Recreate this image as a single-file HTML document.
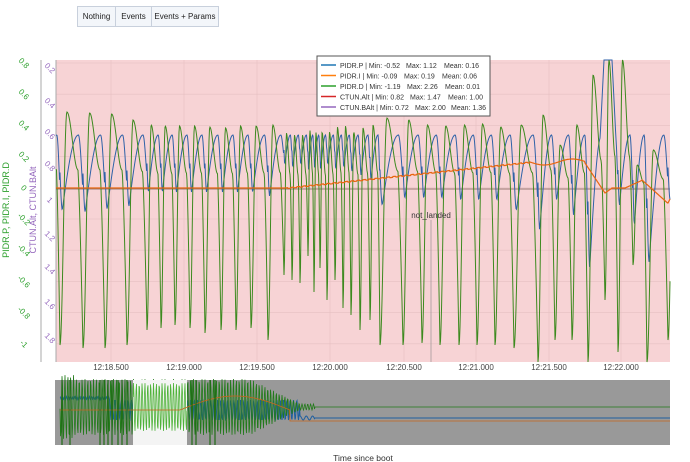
<!DOCTYPE html><html><head><style>
body{margin:0;width:690px;height:462px;background:#fff;font-family:"Liberation Sans",sans-serif;overflow:hidden;position:relative}
.b{position:absolute;top:6px;height:19px;border:1px solid #c8d0dc;background:#f3f6fa;font-size:8px;line-height:19px;text-align:center;color:#222}
</style></head><body>
<div class="b" style="left:77px;width:37px">Nothing</div>
<div class="b" style="left:115px;width:35px">Events</div>
<div class="b" style="left:151px;width:66px">Events + Params</div>
<svg id="s" width="690" height="462" style="position:absolute;left:0;top:0" font-family="Liberation Sans" font-size="8"></svg>
<script>
const s=document.getElementById('s');let h='';
h+='<rect x="56" y="60" width="614" height="302" fill="#f7d3d5"/>';
for(let i=0;i<10;i++){let y=63+i*31.2;h+=`<line x1="56" x2="670" y1="${y}" y2="${y}" stroke="#e6c0c2" stroke-width="0.6"/>`;}
const xt=[[111,'12:18.500'],[184,'12:19.000'],[257,'12:19.500'],[330,'12:20.000'],[404,'12:20.500'],[476,'12:21.000'],[549,'12:21.500'],[621,'12:22.000']];
xt.forEach(([x,t])=>{h+=`<line x1="${x}" x2="${x}" y1="60" y2="362" stroke="#e6c0c2" stroke-width="0.6"/><text x="${x}" y="370" text-anchor="middle" fill="#444">${t}</text>`});
h+='<line x1="41" x2="41" y1="60" y2="362" stroke="#aaa"/><line x1="56" x2="56" y1="60" y2="362" stroke="#aaa"/>';
const gl=['0.8','0.6','0.4','0.2','0','-0.2','-0.4','-0.6','-0.8','-1'];
gl.forEach((t,i)=>{let y=63+i*31.2;h+=`<text transform="translate(22,${y+2}) rotate(45)" fill="#2ca02c" text-anchor="middle">${t}</text>`});
const pl=['0.2','0.4','0.6','0.8','1','1.2','1.4','1.6','1.8'];
const py=[68,103,134,166,200,236,269,304,338];
pl.forEach((t,i)=>{h+=`<text transform="translate(48,${py[i]+2}) rotate(45)" fill="#9467bd" text-anchor="middle">${t}</text>`});
h+='<text transform="translate(9,210) rotate(-90)" fill="#2ca02c" font-size="9" text-anchor="middle">PIDR.P, PIDR.I, PIDR.D</text>';
h+='<text transform="translate(36,210) rotate(-90)" fill="#9467bd" font-size="9" text-anchor="middle">CTUN.Alt, CTUN.BAlt</text>';
h+='<line x1="56" x2="670" y1="189" y2="189" stroke="#7a5a50" stroke-width="0.8"/>';
const T=[[44,345,112,208],[60,345,112,210],[83,348,113,212],[105,348,114,209],[127,345,120,206],[147,330,125,192],[161,328,126,192],[175,325,126,192],[190,328,126,192],[205,333,127,192],[221,330,128,192],[236,330,126,192],[251,328,126,192],[268,340,125,196],
[284,275,133,165],[292,280,135,168],[300,283,135,165],[308,256,130,170],[314,292,132,168],[320,268,132,170],[327,300,132,165],[335,280,127,170],[343,308,126,168],[351,315,132,172],[360,330,128,175],[370,320,125,180],
[380,345,118,205],[403,345,120,198],[422,343,125,198],[440,345,126,198],[459,345,125,200],[477,345,124,200],[495,345,127,200],[514,348,125,210],[538,362,115,230],[555,340,145,200],[572,340,125,215],[588,362,75,268],[605,300,60,250],[618,352,60,205],[633,265,165,225],[647,362,150,262],[668,340,60,200],[690,340,60,200]];
function ease(u){return 0.5-0.5*Math.cos(Math.PI*u);}
let g='',b='',o='';
for(let x=56;x<=670;x+=0.5){
 let i=0;while(T[i+1][0]<=x)i++;
 let a=T[i],c=T[i+1],t=(x-a[0])/(c[0]-a[0]);
 let top=a[2], mid=top+(189-top)*0.75, gy;
 if(t<0.3) gy=a[1]-(a[1]-top)*ease(t/0.3);
 else if(t<0.78) gy=top+(mid-top)*ease((t-0.3)/0.48);
 else gy=mid+(c[1]-mid)*Math.pow((t-0.78)/0.22,1.3);
 gy=Math.max(60,Math.min(362,gy));
 let by, u=t-0.1;
 if(u<0){let p=(u+1-0.8)/0.2;by=135+(a[3]-135)*ease(p);}
 else if(u<0.7){by=a[3]-(a[3]-135)*Math.sin(Math.PI/2*u/0.7);}
 else {let p=(u-0.7)/0.3;by=135+(c[3]-135)*ease(p);}
 if(x>600&&x<604)by=60+(604-x)*20; if(x>=604&&x<612)by=60; if(x>=612&&x<616)by=60+(x-612)*20;
 by=Math.max(60,Math.min(362,by));
 g+=(x==56?'M':'L')+x+' '+gy.toFixed(1);b+=(x==56?'M':'L')+x+' '+by.toFixed(1);
 let oy=188;
 if(x>285&&x<530)oy=188-(x-285)/245*26+((x|0)%6<3?0.8:0);
 else if(x>=530&&x<585)oy=162+Math.sin((x-530)/9)*3;
 else if(x>=585&&x<605)oy=163+(x-585)*1.5;
 else if(x>=605&&x<612)oy=193-(x-605)*0.7;
 else if(x>=612&&x<625)oy=188;
 else if(x>=625&&x<642)oy=188-(x-625)*0.45;
 else if(x>=642&&x<668)oy=180+(x-642)*0.9;
 else if(x>=668)oy=203-(x-668)*2;
 o+=(x==56?'M':'L')+x+' '+oy.toFixed(1);
}
h+=`<path d="${b}" fill="none" stroke="#2f62a8" stroke-width="1"/>`;
h+=`<path d="${g}" fill="none" stroke="#3d8a1f" stroke-width="1"/>`;
h+=`<path d="${o}" fill="none" stroke="#e8650f" stroke-width="1.2"/>`;
h+='<line x1="431" x2="431" y1="220" y2="362" stroke="#888" stroke-width="0.6"/><text x="431" y="218" text-anchor="middle" fill="#333">not_landed</text>';
h+='<rect x="317" y="56" width="173" height="60" fill="#fff" stroke="#555"/>';
const lg=[['#1f77b4','PIDR.P | Min: -0.52','Max: 1.12','Mean: 0.16',406,444],['#ff7f0e','PIDR.I | Min: -0.09','Max: 0.19','Mean: 0.06',404,442],['#2ca02c','PIDR.D | Min: -1.19','Max: 2.26','Mean: 0.01',407,445],['#d62728','CTUN.Alt | Min: 0.82','Max: 1.47','Mean: 1.00',410,448],['#9467bd','CTUN.BAlt | Min: 0.72','Max: 2.00','Mean: 1.36',415,451]];
lg.forEach((l,i)=>{let y=65+i*10.5;h+=`<line x1="321" x2="336" y1="${y}" y2="${y}" stroke="${l[0]}" stroke-width="1.5"/><text x="340" y="${y+3}" fill="#333" font-size="7">${l[1]}</text><text x="${l[4]}" y="${y+3}" fill="#333" font-size="7">${l[2]}</text><text x="${l[5]}" y="${y+3}" fill="#333" font-size="7">${l[3]}</text>`});
h+='<rect x="55" y="380" width="615" height="65" fill="#999"/><rect x="133" y="380" width="54" height="65" fill="#f4f4f4"/>';
let m='',m2='',mb='',mo='';
for(let x=60;x<=670;x+=0.5){let a=x<250?28:(x<300?28-(x-250)*0.5:(x<315?3:0));
 let y=407+Math.sin(x*2.2)*a;if(x<75)y=407+Math.sin(x*2.2)*32;
 if(x>=133&&x<=187){m2+=(m2?'L':'M')+x+' '+(407+Math.sin(x*2.2)*24).toFixed(1);}
 m+=(x==60?'M':'L')+x+' '+y.toFixed(1);
 let yb=x<110?398+Math.sin(x*3)*1.5:(x<300?410+Math.sin(x*1.9)*10:(x<315?418+Math.sin(x)*2:418));mb+=(x==60?'M':'L')+x+' '+yb.toFixed(1);
 let yo=x<180?410:(x<290?410-Math.sin((x-180)/35)*14:421);mo+=(x==60?'M':'L')+x+' '+yo.toFixed(1);}
h+=`<path d="${mb}" fill="none" stroke="#1f5fa0" stroke-width="1"/><path d="${m}" fill="none" stroke="#227a1a" stroke-width="0.8"/><rect x="133" y="380" width="54" height="65" fill="#f4f4f4"/><path d="${m2}" fill="none" stroke="#4fb33a" stroke-width="0.8"/><path d="${mo}" fill="none" stroke="#c8641a" stroke-width="0.8"/>`;
[62,70,100,104,108,112,118,122,127,192,196,210,215].forEach(x=>{h+=`<line x1="${x}" x2="${x}" y1="380" y2="445" stroke="#1f6b15" stroke-width="1.2"/>`});
h+='<text x="363" y="461" text-anchor="middle" fill="#333" font-size="8.5">Time since boot</text>';
s.innerHTML=h;
</script></body></html>
